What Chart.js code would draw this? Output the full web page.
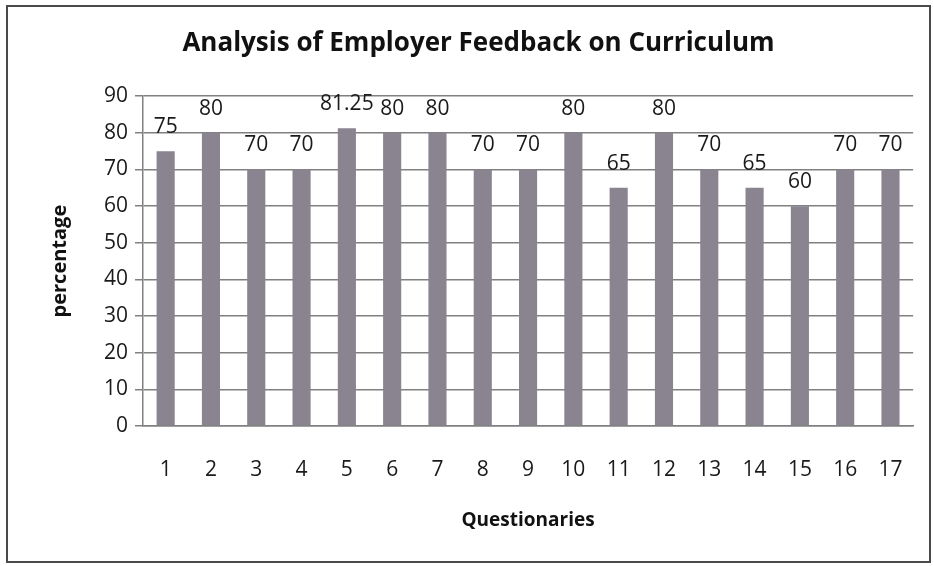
<!DOCTYPE html>
<html>
<head>
<meta charset="utf-8">
<script src="https://cdn.jsdelivr.net/npm/chart.js@4.4.1/dist/chart.umd.min.js"></script>
<style>
  body { margin: 0; background: #fff; }
  #wrap { width: 934px; height: 566px; }
</style>
</head>
<body>
<div id="wrap"><canvas id="chart" width="934" height="566"></canvas></div>
<script>
// questionnaire numbers and employer scores (%)
const questions = ['1','2','3','4','5','6','7','8','9','10','11','12','13','14','15','16','17'];
const scores = [75, 80, 70, 70, 81.25, 80, 80, 70, 70, 80, 65, 80, 70, 65, 60, 70, 70];
const yTicks = [0, 10, 20, 30, 40, 50, 60, 70, 80, 90];

const FONT = '"Open Sans", Lato, sans-serif';
Chart.defaults.font.family = FONT;
Chart.defaults.color = '#1a1a1a';

// outer frame round the whole chart
const framePlugin = {
  id: 'frame',
  beforeDraw(chart) {
    const ctx = chart.ctx;
    ctx.save();
    ctx.fillStyle = '#fff';
    ctx.fillRect(0, 0, chart.width, chart.height);
    ctx.strokeStyle = '#4a4a4a';
    ctx.lineWidth = 2;
    ctx.strokeRect(7, 6, 923, 556);
    ctx.restore();
  }
};

// value written above each bar
const valueLabels = {
  id: 'valueLabels',
  afterDatasetsDraw(chart) {
    const ctx = chart.ctx;
    const meta = chart.getDatasetMeta(0);
    ctx.save();
    ctx.font = '21px ' + FONT;
    ctx.fillStyle = '#1a1a1a';
    ctx.textAlign = 'center';
    ctx.textBaseline = 'middle';
    meta.data.forEach((bar, i) => {
      ctx.fillText(String(scores[i]), bar.x, bar.y - 24);
    });
    ctx.restore();
  }
};

new Chart(document.getElementById('chart'), {
  type: 'bar',
  data: {
    labels: questions,
    datasets: [{
      data: scores,
      backgroundColor: '#8a8390',
      barPercentage: 0.4,
      categoryPercentage: 1.0
    }]
  },
  options: {
    responsive: false,
    animation: false,
    layout: { padding: { left: 40, right: 17, top: 0, bottom: 0 } },
    plugins: {
      legend: { display: false },
      tooltip: { enabled: false },
      title: {
        display: true,
        text: 'Analysis of Employer Feedback on Curriculum',
        font: { size: 26, weight: 'bold' },
        color: '#111',
        padding: { top: 28, bottom: 37 }
      }
    },
    scales: {
      x: {
        grid: { display: false, drawTicks: false },
        border: { display: true, color: '#808080', width: 1.5 },
        ticks: { font: { size: 21 }, padding: 31, color: '#1a1a1a' },
        title: {
          display: true,
          text: 'Questionaries',
          font: { size: 19, weight: 'bold' },
          color: '#111',
          padding: { top: 0, bottom: 34 }
        },
        afterFit(scale) { scale.height = 140; }
      },
      y: {
        min: 0,
        max: 90,
        afterBuildTicks(scale) { scale.ticks = yTicks.map(v => ({ value: v })); },
        grid: { color: '#808080', lineWidth: 1.5, tickLength: 8 },
        border: { display: true, color: '#808080', width: 1.5 },
        ticks: { font: { size: 21 }, padding: 7, color: '#1a1a1a' },
        title: {
          display: true,
          text: 'percentage',
          font: { size: 20, weight: 'bold' },
          color: '#111',
          padding: { top: 8, bottom: 0 }
        },
        afterFit(scale) { scale.width = 103; }
      }
    }
  },
  plugins: [framePlugin, valueLabels]
});
</script>
</body>
</html>
